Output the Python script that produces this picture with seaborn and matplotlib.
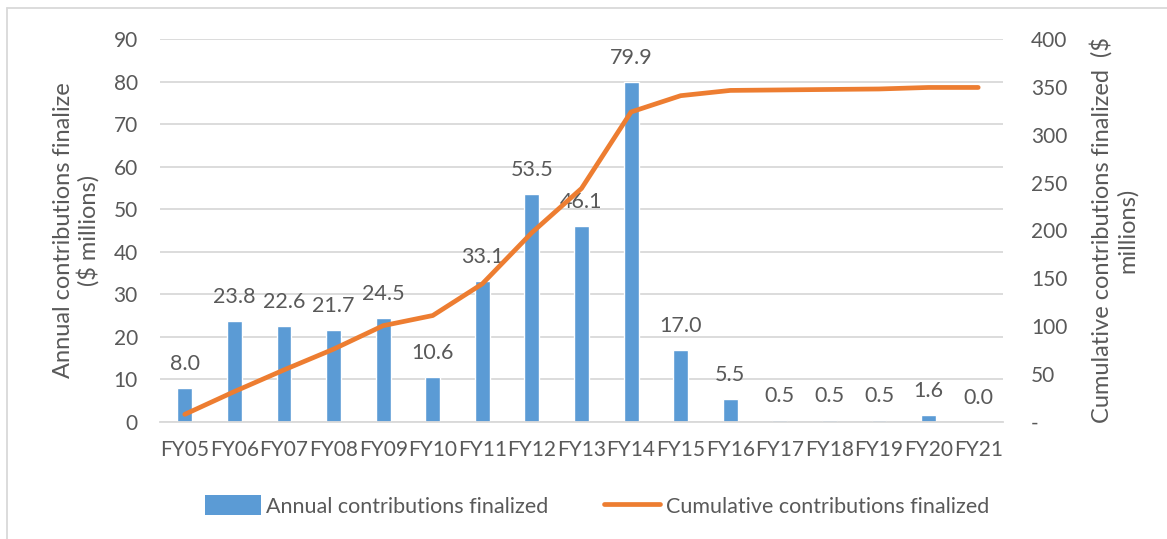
import numpy as np
import pandas as pd
import matplotlib
matplotlib.use("Agg")
import matplotlib.pyplot as plt
import seaborn as sns
from matplotlib.patches import Patch
from matplotlib.lines import Line2D
from matplotlib.ticker import FuncFormatter, FixedLocator

years = ["FY05", "FY06", "FY07", "FY08", "FY09", "FY10", "FY11", "FY12", "FY13",
         "FY14", "FY15", "FY16", "FY17", "FY18", "FY19", "FY20", "FY21"]
annual = [8.0, 23.8, 22.6, 21.7, 24.5, 10.6, 33.1, 53.5, 46.1,
          79.9, 17.0, 5.5, 0.5, 0.5, 0.5, 1.6, 0.0]
cumulative = [8.0, 31.8, 54.4, 76.1, 100.6, 111.2, 144.3, 197.8, 243.9,
              323.8, 340.8, 346.3, 346.8, 347.3, 347.8, 349.4, 349.4]
left_label = "Annual contributions finalize\n($ millions)"
right_label = "Cumulative contributions finalized  ($\nmillions)"
bar_name = "Annual contributions finalized"
line_name = "Cumulative contributions finalized"

BAR = "#5B9BD5"
LINE = "#ED7D31"
TXT = "#595959"
GRID = "#D9D9D9"
FS = 15
FS_LAB = 15.5
FS_TITLE = 17

sns.set_style("white")
plt.rcParams["font.family"] = ["Lato", "DejaVu Sans"]

df = pd.DataFrame({"year": years, "annual": annual, "cumulative": cumulative})
df["pos"] = np.arange(len(df))

W, H = 1167, 539
fig = plt.figure(figsize=(W / 100, H / 100), dpi=100)
ax = fig.add_axes([160 / W, (H - 422) / H, (1003 - 160) / W, (422 - 39) / H])

sns.barplot(data=df, x="year", y="annual", ax=ax, color=BAR, width=0.3,
            saturation=1, zorder=2)
ax.set_xlim(-0.5, len(years) - 0.5)
ax.set_ylim(0, 90)
ax.set_yticks(np.arange(0, 91, 10))
ax.yaxis.grid(True, color=GRID, lw=1.3, zorder=0)
ax.set_axisbelow(True)
for s in ["top", "right", "left"]:
    ax.spines[s].set_visible(False)
ax.spines["bottom"].set_color(GRID)
ax.spines["bottom"].set_linewidth(1.3)
ax.tick_params(axis="y", length=0, pad=16, labelsize=FS, labelcolor=TXT)
ax.tick_params(axis="x", which="major", length=0, pad=13, labelsize=FS, labelcolor=TXT)
ax.xaxis.set_minor_locator(FixedLocator(np.arange(-0.5, len(years), 1.0)))
ax.tick_params(axis="x", which="minor", length=8, width=1.3, color=GRID)
ax.set_xlabel("")
ax.set_ylabel(left_label, fontsize=FS_TITLE, color=TXT, labelpad=10, linespacing=1.15)

ax.bar_label(ax.containers[0], labels=[f"{v:.1f}" for v in annual],
             padding=10, fontsize=FS_LAB, color=TXT)

ax2 = ax.twinx()
sns.lineplot(data=df, x="pos", y="cumulative", ax=ax2, color=LINE, lw=3.4,
             solid_capstyle="round")
ax2.set_ylim(0, 400)
ax2.set_yticks(np.arange(0, 401, 50))
ax2.yaxis.set_major_formatter(FuncFormatter(lambda v, p: "-" if v == 0 else f"{v:.0f}"))
for s in ax2.spines.values():
    s.set_visible(False)
ax2.tick_params(axis="y", length=0, pad=20, labelsize=FS, labelcolor=TXT)
ax2.set_ylabel(right_label, fontsize=FS_TITLE, color=TXT, labelpad=16, linespacing=1.25)
ax2.set_xlabel("")
ax2.set_xlim(-0.5, len(years) - 0.5)

handles = [Patch(facecolor=BAR, edgecolor="none"),
           Line2D([0], [0], color=LINE, lw=3.4, solid_capstyle="round")]
fig.legend(handles, [bar_name, line_name], loc="center",
           bbox_to_anchor=(597 / W, 1 - 506 / H), ncol=2, frameon=False,
           fontsize=FS_LAB, labelcolor=TXT, handlelength=2.6, handleheight=1.0,
           handletextpad=0.25, columnspacing=2.6)

# outer chart frame (left and top edges visible)
fig.add_artist(Line2D([7 / W, 7 / W], [0, 1 - 8 / H], color=GRID, lw=1.3,
                      transform=fig.transFigure))
fig.add_artist(Line2D([7 / W, 1], [1 - 8 / H, 1 - 8 / H], color=GRID, lw=1.3,
                      transform=fig.transFigure))

fig.savefig("out.png", dpi=100, facecolor="white")
